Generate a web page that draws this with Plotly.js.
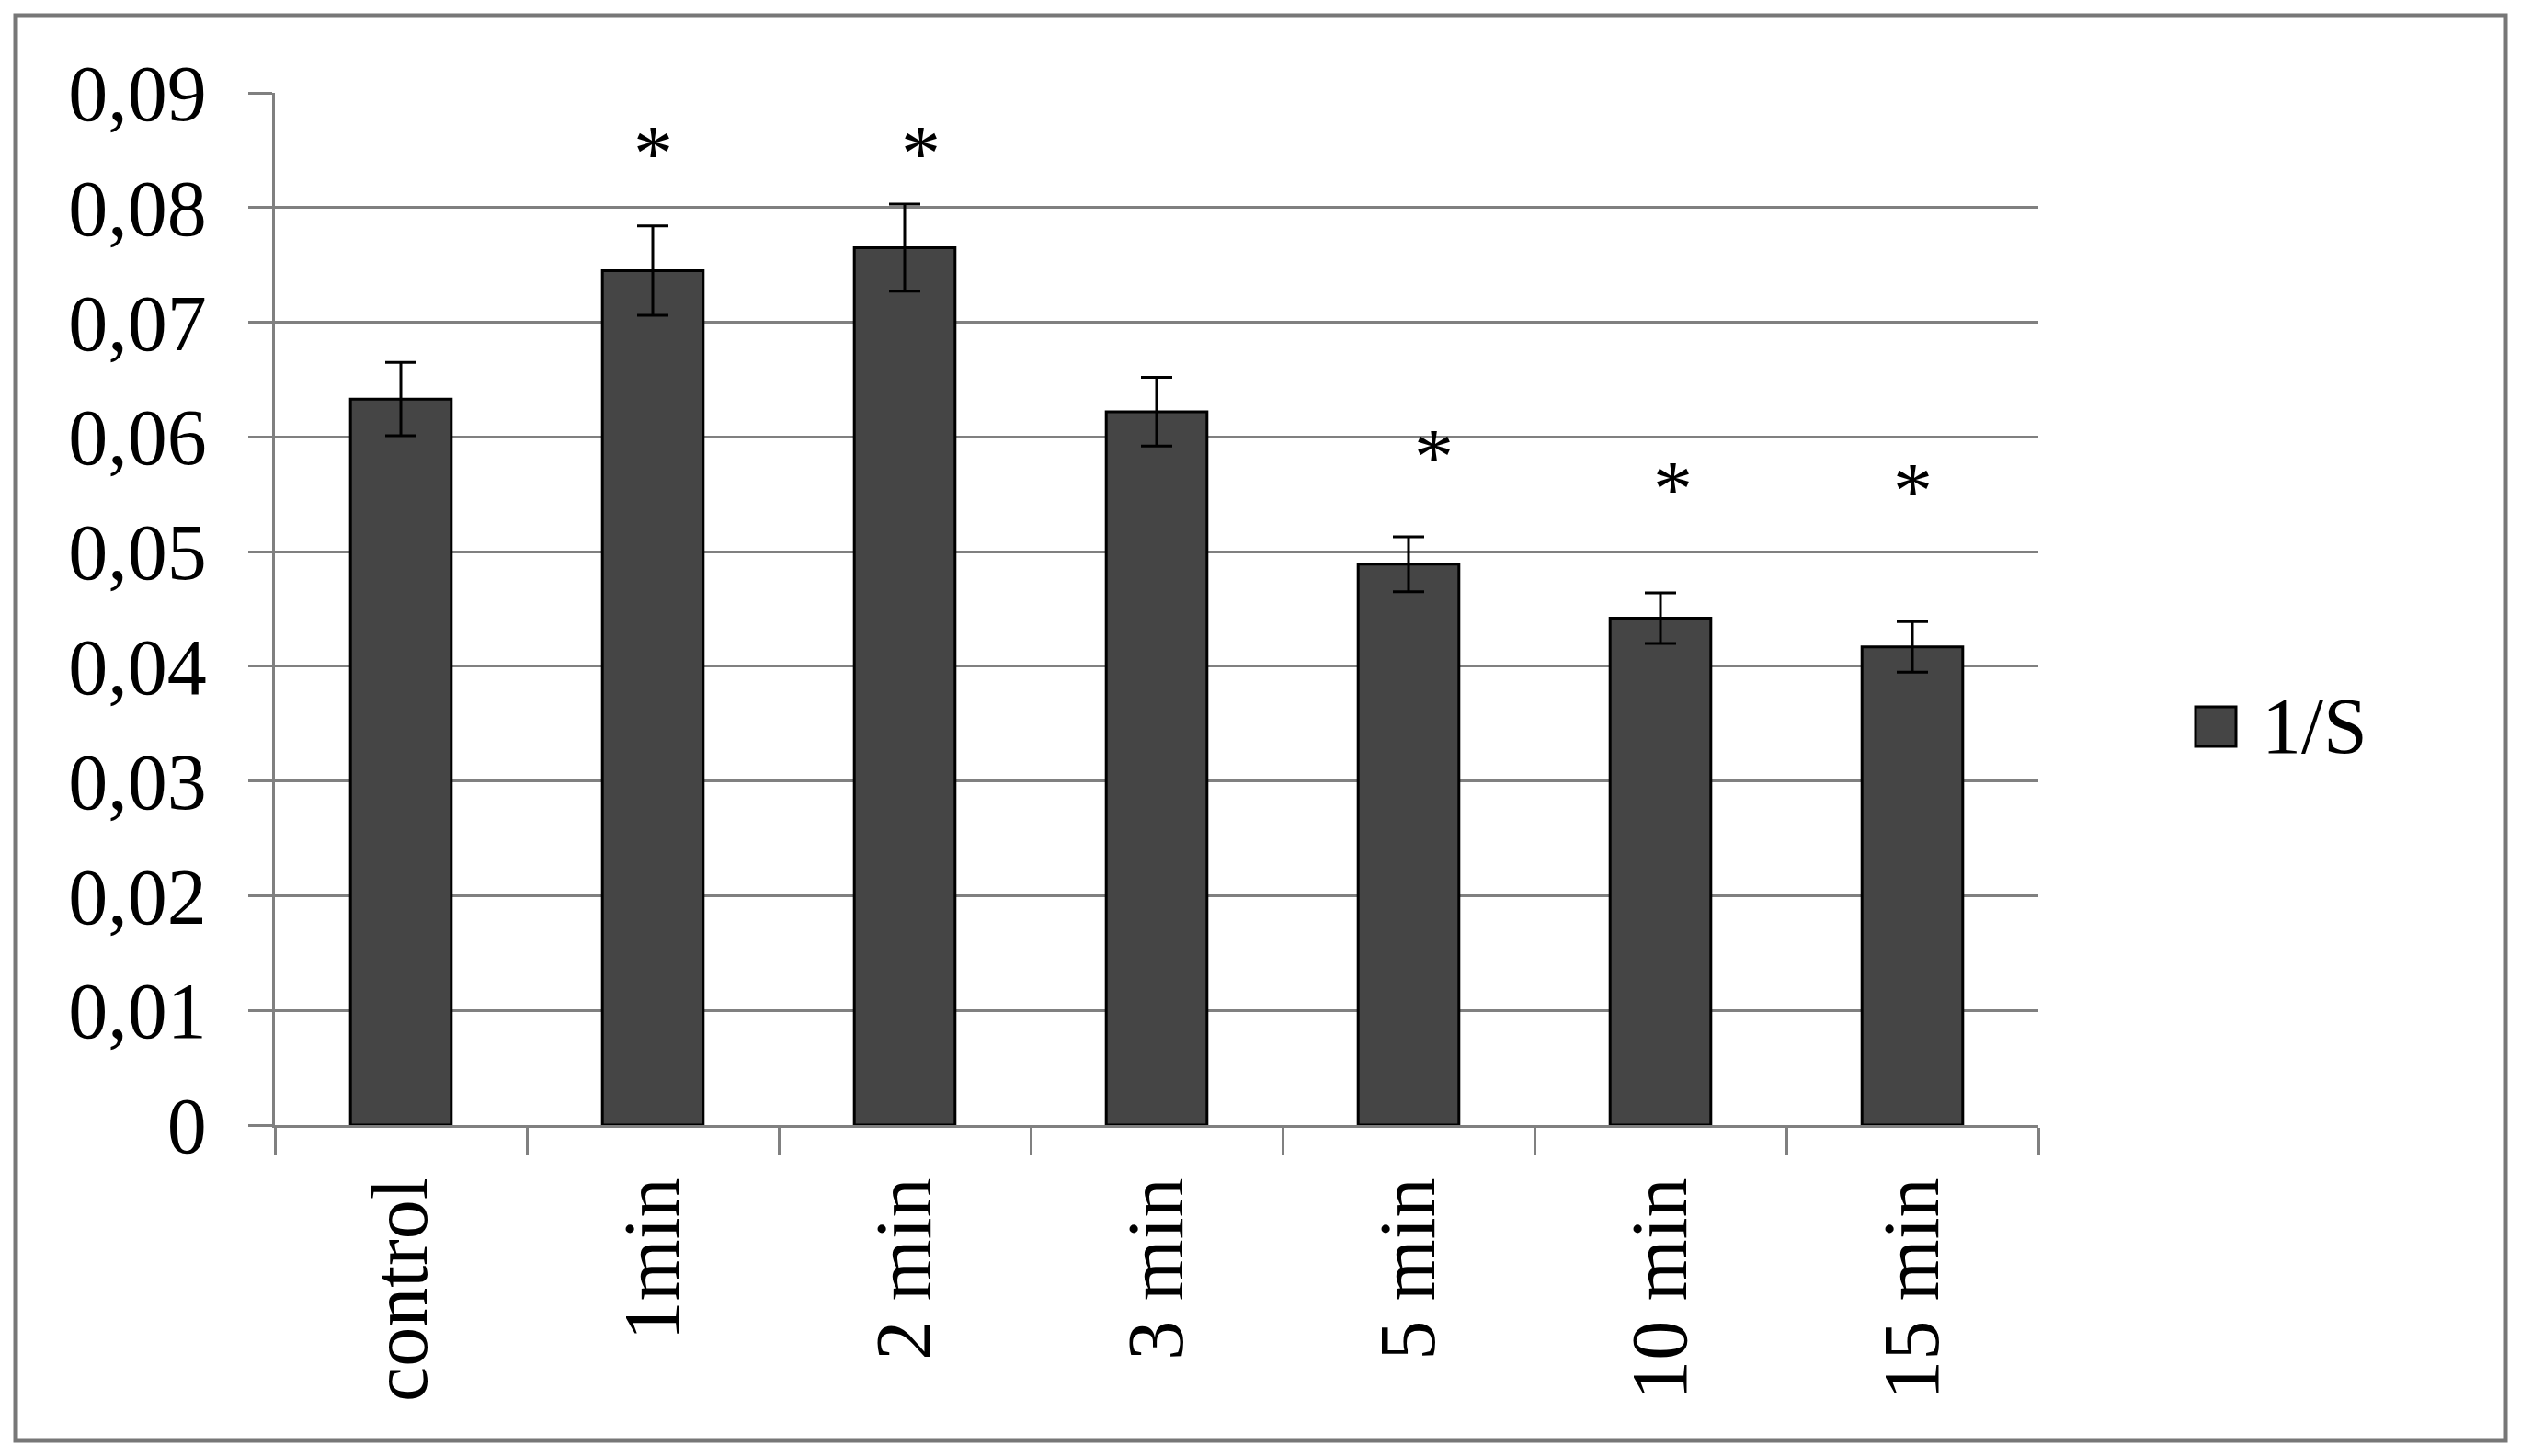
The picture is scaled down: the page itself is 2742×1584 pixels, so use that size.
<!DOCTYPE html>
<html>
<head>
<meta charset="utf-8">
<script src="https://cdn.plot.ly/plotly-3.0.1.min.js"></script>
<style>
  html, body { margin: 0; padding: 0; background: #ffffff; }
  #chart { width: 2742px; height: 1584px; }
</style>
</head>
<body>
<div id="chart"></div>
<script>
// ---- data ----
const categories = ['control', '1min', '2 min', '3 min', '5 min', '10 min', '15 min'];
const values     = [0.0633, 0.0745, 0.0765, 0.0622, 0.0489, 0.0442, 0.0417];
const errors     = [0.0032, 0.0039, 0.0038, 0.0030, 0.0024, 0.0022, 0.0022];
const starY      = [null, 0.0858, 0.0858, null, 0.0594, 0.0566, 0.0564];
const seriesName = '1/S';
const yTickVals  = [0, 0.01, 0.02, 0.03, 0.04, 0.05, 0.06, 0.07, 0.08, 0.09];

// ---- layout geometry (pixels) ----
const W = 2742, H = 1584;
const M = { l: 299, r: 525, t: 101, b: 360 };
const PW = W - M.l - M.r, PH = H - M.t - M.b;
const px = x => (x - M.l) / PW;
const py = y => (H - M.b - y) / PH;

const FONT = 'Liberation Serif, Times New Roman, serif';
const GRID = '#808080';
const BAR = '#454545';
const starShift = [0, 0, 17, 0, 27, 13, 0];

const bars = {
  type: 'bar',
  x: categories,
  y: values,
  name: seriesName,
  width: 0.4,
  marker: { color: BAR, line: { color: '#000000', width: 3 } },
  error_y: { type: 'data', array: errors, visible: true, color: '#000000', thickness: 3, width: 17 },
  hoverinfo: 'skip',
  showlegend: false
};

const annotations = [];
categories.forEach((c, i) => {
  if (starY[i] !== null) {
    annotations.push({
      x: c, y: starY[i], xref: 'x', yref: 'y',
      text: '*', showarrow: false,
      xanchor: 'center', yanchor: 'middle',
      xshift: starShift[i], yshift: -14,
      font: { family: FONT, size: 86, color: '#000000' }
    });
  }
});
// legend label
annotations.push({
  x: px(2458), y: py(790), xref: 'paper', yref: 'paper',
  text: seriesName, showarrow: false,
  xanchor: 'left', yanchor: 'middle',
  font: { family: FONT, size: 86, color: '#000000' }
});

const shapes = [
  // outer frame
  { type: 'rect', xref: 'paper', yref: 'paper',
    x0: px(17), x1: px(2725), y0: py(1567), y1: py(17),
    line: { color: '#777777', width: 5 }, fillcolor: 'rgba(0,0,0,0)' },
  // legend swatch
  { type: 'rect', xref: 'paper', yref: 'paper',
    x0: px(2388), x1: px(2432), y0: py(812), y1: py(769),
    line: { color: '#000000', width: 3 }, fillcolor: BAR }
];

const layout = {
  width: W, height: H,
  margin: M,
  paper_bgcolor: '#ffffff',
  plot_bgcolor: '#ffffff',
  separators: ', ',
  showlegend: false,
  font: { family: FONT, size: 86, color: '#000000' },
  bargap: 0.6,
  xaxis: {
    type: 'category',
    showgrid: false,
    showline: true, linecolor: GRID, linewidth: 3,
    ticks: 'outside', tickson: 'boundaries', ticklen: 29, tickwidth: 3, tickcolor: GRID,
    tickangle: -90,
    ticklabelstandoff: 20,
    tickfont: { family: FONT, size: 86, color: '#000000' }
  },
  yaxis: {
    range: [0, 0.09],
    tickvals: yTickVals,
    showgrid: true, gridcolor: GRID, gridwidth: 3,
    zeroline: false,
    showline: true, linecolor: GRID, linewidth: 3,
    ticks: 'outside', ticklen: 26, tickwidth: 3, tickcolor: GRID,
    ticklabelstandoff: 28,
    tickfont: { family: FONT, size: 86, color: '#000000' }
  },
  annotations: annotations,
  shapes: shapes
};

Plotly.newPlot('chart', [bars], layout, { staticPlot: true, displayModeBar: false });
</script>
</body>
</html>
